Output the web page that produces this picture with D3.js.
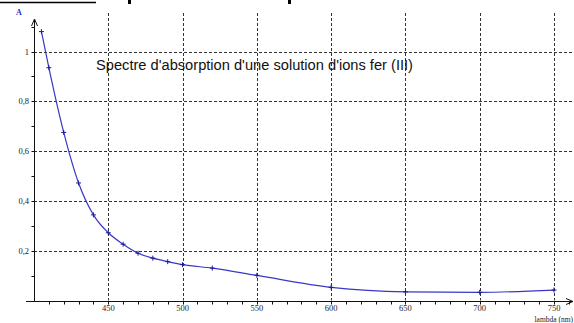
<!DOCTYPE html>
<html>
<head>
<meta charset="utf-8">
<script src="https://cdn.jsdelivr.net/npm/d3@7"></script>
<style>
    body { margin: 0; background: #fff; }
    svg { display: block; }
    .tick-label { font-family: "Liberation Serif", serif; font-size: 8.5px; fill: #222; }
</style>
</head>
<body>
<div id="chart"></div>
<script>
const wavelengths = [405, 410, 420, 430, 440, 450, 460, 470, 480, 490, 500, 520, 550, 600, 650, 700, 750];
const absorbance = [1.08, 0.935, 0.675, 0.472, 0.344, 0.272, 0.226, 0.19, 0.17, 0.156, 0.144, 0.13, 0.101, 0.053, 0.035, 0.033, 0.042];
const xTickValues = [450, 500, 550, 600, 650, 700, 750];
const yTickValues = [0.2, 0.4, 0.6, 0.8, 1];
const yTickLabels = ["0,2", "0,4", "0,6", "0,8", "1"];
const chartTitle = "Spectre d'absorption d'une solution d'ions fer (III)";

const width = 574, height = 323;
const x = d3.scaleLinear().domain([400, 750]).range([34, 554]);
const y = d3.scaleLinear().domain([0, 1]).range([300.5, 51.5]);

const svg = d3.select("#chart").append("svg")
    .attr("width", width)
    .attr("height", height);

// bits of the cropped header above the chart
svg.append("line")
    .attr("x1", 0).attr("x2", 96).attr("y1", 2.5).attr("y2", 2.5)
    .attr("stroke", "#000").attr("stroke-width", 1.5);
svg.append("rect").attr("x", 128).attr("y", 0).attr("width", 3).attr("height", 4).attr("fill", "#000");
svg.append("rect").attr("x", 288).attr("y", 0).attr("width", 3).attr("height", 4).attr("fill", "#000");

// grid
const grid = svg.append("g")
    .attr("stroke", "#333")
    .attr("stroke-width", 1)
    .attr("stroke-dasharray", "3,2");

grid.selectAll(".vgrid")
    .data(xTickValues)
    .enter()
    .append("line")
    .attr("x1", d => Math.round(x(d)) + 0.5)
    .attr("x2", d => Math.round(x(d)) + 0.5)
    .attr("y1", 13)
    .attr("y2", y(0));

grid.selectAll(".hgrid")
    .data(yTickValues)
    .enter()
    .append("line")
    .attr("x1", x(400))
    .attr("x2", width)
    .attr("y1", d => Math.round(y(d)) + 0.5)
    .attr("y2", d => Math.round(y(d)) + 0.5);

// axes
const axisColor = "#111";
const x0 = Math.round(x(400)) + 0.5;
const y0 = Math.round(y(0)) + 0.5;

svg.append("line")
    .attr("x1", 26).attr("x2", 572).attr("y1", y0).attr("y2", y0)
    .attr("stroke", axisColor);
svg.append("line")
    .attr("x1", x0).attr("x2", x0).attr("y1", 20).attr("y2", y0)
    .attr("stroke", axisColor);

svg.append("path")
    .attr("d", `M${x0 - 3},26 L${x0},19 L${x0 + 3},26`)
    .attr("fill", "none").attr("stroke", axisColor);
svg.append("path")
    .attr("d", `M566,${y0 - 3} L573,${y0} L566,${y0 + 3}`)
    .attr("fill", "none").attr("stroke", axisColor);

// minor ticks
svg.append("g")
    .selectAll("line")
    .data(d3.range(410, 761, 10))
    .enter()
    .append("line")
    .attr("x1", d => Math.round(x(d)) + 0.5)
    .attr("x2", d => Math.round(x(d)) + 0.5)
    .attr("y1", y0)
    .attr("y2", y0 + 3)
    .attr("stroke", axisColor);

svg.append("g")
    .selectAll("line")
    .data(d3.range(0.1, 1.15, 0.1))
    .enter()
    .append("line")
    .attr("x1", x0 - 3)
    .attr("x2", x0)
    .attr("y1", d => Math.round(y(d)) + 0.5)
    .attr("y2", d => Math.round(y(d)) + 0.5)
    .attr("stroke", axisColor);

// tick labels
svg.selectAll(".xlabel")
    .data(xTickValues)
    .enter()
    .append("text")
    .attr("class", "tick-label")
    .attr("x", d => x(d))
    .attr("y", 311)
    .attr("text-anchor", "middle")
    .text(d => d);

svg.selectAll(".ylabel")
    .data(yTickValues)
    .enter()
    .append("text")
    .attr("class", "tick-label")
    .attr("x", 29)
    .attr("y", d => y(d) + 3)
    .attr("text-anchor", "end")
    .text((d, i) => yTickLabels[i]);

svg.append("text")
    .attr("x", 16)
    .attr("y", 15)
    .style("font-family", "Liberation Serif, serif")
    .style("font-size", "8px")
    .style("font-weight", "bold")
    .style("fill", "#2a2ad0")
    .text("A");

svg.append("text")
    .attr("class", "tick-label")
    .attr("x", 573)
    .attr("y", 322)
    .attr("text-anchor", "end")
    .style("font-size", "7.5px")
    .text("lambda (nm)");

// title
svg.append("text")
    .attr("x", 96)
    .attr("y", 70)
    .attr("textLength", 317)
    .attr("lengthAdjust", "spacingAndGlyphs")
    .style("font-family", "Liberation Sans, Arial, sans-serif")
    .style("font-size", "14px")
    .style("fill", "#111")
    .text(chartTitle);

// curve
const points = wavelengths.map((w, i) => ({ w: w, a: absorbance[i] }));
const line = d3.line()
    .x(d => x(d.w))
    .y(d => y(d.a))
    .curve(d3.curveMonotoneX);

svg.append("path")
    .datum(points)
    .attr("d", line)
    .attr("fill", "none")
    .attr("stroke", "#3838c8")
    .attr("stroke-width", 1.2);

// markers
svg.append("g")
    .selectAll("path")
    .data(points)
    .enter()
    .append("path")
    .attr("d", d => {
        const px = x(d.w), py = y(d.a);
        return `M${px - 2.5},${py} H${px + 2.5} M${px},${py - 2.5} V${py + 2.5}`;
    })
    .attr("stroke", "#1a1a9a")
    .attr("stroke-width", 1);
</script>
</body>
</html>
